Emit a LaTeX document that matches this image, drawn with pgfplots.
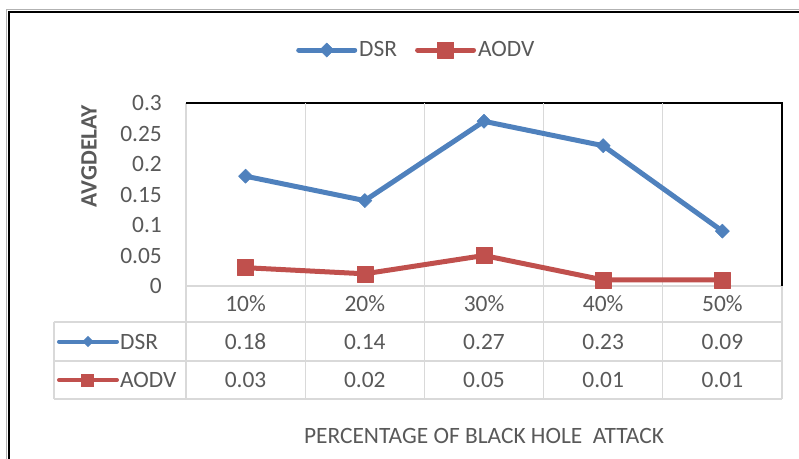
\documentclass[border=0pt]{standalone}
\usepackage{pgfplots}
\pgfplotsset{compat=1.18}
\usepackage{fontspec}
\setmainfont{Carlito}
\definecolor{dsr}{HTML}{4F81BD}
\definecolor{aodv}{HTML}{C0504D}
\definecolor{txt}{HTML}{595959}
\definecolor{grd}{HTML}{D9D9D9}
\newcommand\myfont{\fontsize{23.5}{27}\selectfont}
\begin{document}
\begin{tikzpicture}
\path[use as bounding box] (-186bp,-173bp) rectangle (613bp,286bp);
% outer frame
\draw[gray!60, line width=1bp] (-179.5bp,-173bp) -- (-179.5bp,276.5bp) -- (613bp,276.5bp);
\draw[black, line width=2bp] (-177bp,-173bp) -- (-177bp,274bp) -- (613bp,274bp);
% data table grid
\begin{scope}[grd, line width=1.2bp]
\draw (0bp,0bp) -- (596bp,0bp);
\foreach \y in {-36,-75,-113} \draw (-132bp,\y bp) -- (596bp,\y bp);
\draw (-132bp,-36bp) -- (-132bp,-113bp);
\foreach \x in {0,119.2,238.4,357.6,476.8,596} \draw (\x bp,0bp) -- (\x bp,-113bp);
\draw (0bp,0bp) -- (0bp,183bp);
\end{scope}
% plot area border (top, right)
\draw[black, line width=1.2bp] (0bp,183bp) -- (596bp,183bp) -- (596bp,0bp);
% table contents
\begin{scope}[font=\myfont, text=txt]
\foreach \x/\v in {59.6/0.18,178.8/0.14,298/0.27,417.2/0.23,536.4/0.09}
  \node[inner sep=0pt] at (\x bp,-55.5bp) {\v};
\foreach \x/\v in {59.6/0.03,178.8/0.02,298/0.05,417.2/0.01,536.4/0.01}
  \node[inner sep=0pt] at (\x bp,-94bp) {\v};
\node[anchor=west, inner sep=0pt] at (-66bp,-55.5bp) {DSR};
\node[anchor=west, inner sep=0pt] at (-66bp,-94bp) {AODV};
\end{scope}
\draw[dsr, line width=4bp, line cap=round] (-127bp,-55.5bp) -- (-69bp,-55.5bp);
\node[fill=dsr, rotate=45, minimum size=8bp, inner sep=0pt] at (-98bp,-55.5bp) {};
\draw[aodv, line width=4bp, line cap=round] (-127bp,-94bp) -- (-69bp,-94bp);
\node[fill=aodv, minimum size=13bp, inner sep=0pt] at (-98bp,-94bp) {};
\begin{axis}[
  at={(0,0)}, anchor=south west,
  scale only axis, width=596bp, height=183bp,
  xmin=0, xmax=5, ymin=0, ymax=0.3,
  axis line style={draw=none},
  clip=false,
  xtick={0.5,1.5,2.5,3.5,4.5},
  xticklabels={10\%,20\%,30\%,40\%,50\%},
  minor xtick={1,2,3,4},
  xminorgrids,
  minor grid style={grd, line width=1.2bp},
  ytick={0,0.05,0.1,0.15,0.2,0.25,0.3},
  yticklabels={0,0.05,0.1,0.15,0.2,0.25,0.3},
  major tick length=0pt, minor tick length=0pt,
  tick label style={font=\myfont, text=txt, inner sep=0pt},
  xticklabel style={anchor=center, yshift=-18bp},
  yticklabel style={anchor=east, xshift=-24bp},
  ylabel={AVGDELAY},
  ylabel style={at={(axis description cs:-0.1628,0.710)}, anchor=center, font=\myfont\bfseries, text=txt},
  xlabel={PERCENTAGE OF BLACK HOLE\ \ ATTACK},
  xlabel style={at={(axis description cs:0.5,-0.8197)}, anchor=center, font=\myfont, text=txt},
  legend style={at={(axis description cs:0.1846,1.2896)}, anchor=west, draw=none, fill=none,
    inner sep=0pt, font=\myfont, text=txt,
    /tikz/every even column/.append style={column sep=16bp}},
  legend columns=2,
  legend image code/.code={\draw[mark repeat=2,mark phase=2,#1] plot coordinates {(0bp,0bp)(28bp,0bp)(56bp,0bp)};},
]
\addplot[dsr, line width=5bp, line join=round, line cap=round, mark=square*, mark size=5bp,
  mark options={rotate=45, line width=0.5bp, solid}]
  coordinates {(0.5,0.18)(1.5,0.14)(2.5,0.27)(3.5,0.23)(4.5,0.09)};
\addplot[aodv, line width=5bp, line join=round, line cap=round, mark=square*, mark size=8bp,
  mark options={line width=0.5bp, solid}]
  coordinates {(0.5,0.03)(1.5,0.02)(2.5,0.05)(3.5,0.01)(4.5,0.01)};
\legend{DSR,AODV}
\end{axis}
\end{tikzpicture}
\end{document}
